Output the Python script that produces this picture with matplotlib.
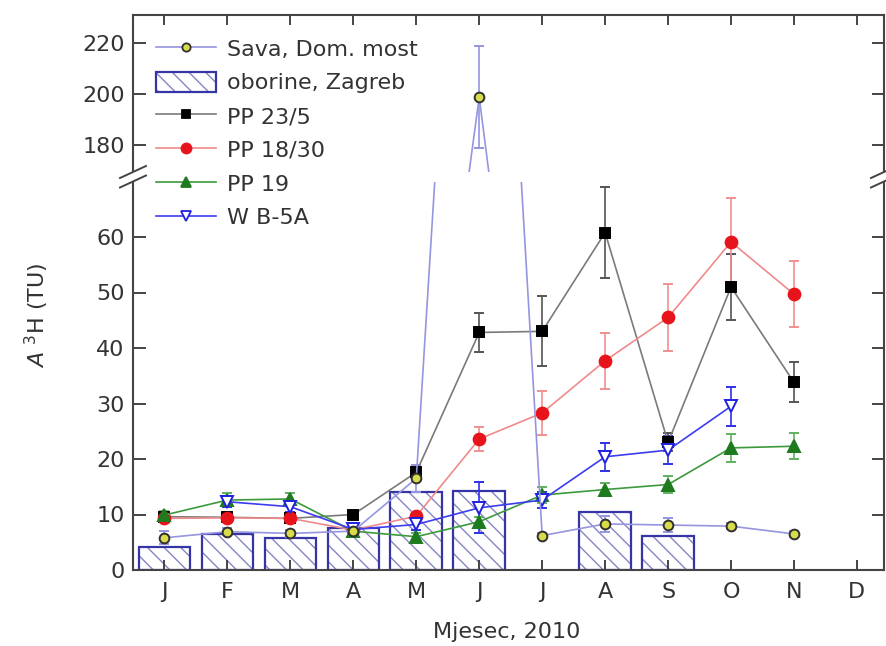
import numpy as np
import matplotlib
matplotlib.use("Agg")
import matplotlib.pyplot as plt
from matplotlib.lines import Line2D
from matplotlib.patches import Patch, Polygon

plt.rcParams['font.family'] = ['DejaVu Sans']
plt.rcParams['mathtext.fontset'] = 'dejavusans'

nan = np.nan

# podaci (ocitano sa slike)
months = ['J', 'F', 'M', 'A', 'M', 'J', 'J', 'A', 'S', 'O', 'N', 'D']
x = np.arange(1, 13)

oborine = [4.2, 6.5, 5.7, 7.6, 14.1, 14.2, nan, 10.5, 6.2, nan, nan, nan]

sava = [5.8, 6.9, 6.6, 7.0, 16.5, 198.8, 6.2, 8.3, 8.1, 7.9, 6.5, nan]
sava_err = [1.2, 0.6, 0.6, 0.5, 2.4, 20.0, 0.5, 1.5, 1.2, 0.5, 0.5, nan]

pp235 = [9.6, 9.5, 9.3, 10.0, 17.6, 42.8, 43.0, 60.8, 23.0, 51.0, 33.8, nan]
pp235_err = [0.5, 0.5, 0.5, 0.6, 1.0, 3.5, 6.3, 8.2, 1.6, 6.0, 3.6, nan]

pp1830 = [9.3, 9.4, 9.3, 7.2, 9.7, 23.6, 28.3, 37.7, 45.5, 59.1, 49.7, nan]
pp1830_err = [0.6, 0.6, 0.6, 0.5, 0.8, 2.2, 4.0, 5.0, 6.0, 8.0, 6.0, nan]

pp19 = [9.9, 12.6, 12.8, 7.0, 6.0, 8.7, 13.5, 14.5, 15.4, 22.0, 22.3, nan]
pp19_err = [0.8, 1.2, 1.0, 0.5, 0.6, 0.8, 1.5, 1.2, 1.5, 2.5, 2.3, nan]

wb5a = [nan, 12.3, 11.4, 7.3, 8.2, 11.2, 12.6, 20.4, 21.6, 29.5, nan, nan]
wb5a_err = [nan, 1.0, 1.0, 0.6, 1.0, 4.6, 1.5, 2.5, 2.5, 3.5, nan, nan]

# stilovi serija
series = [
    # label, values, err, line, marker, ms, mfc, mec, ecolor
    ('PP 23/5', pp235, pp235_err, '#7a7a7a', 's', 7.5, 'black', 'black', '#555555'),
    ('PP 18/30', pp1830, pp1830_err, '#f08a8a', 'o', 8.5, '#e8141c', '#e8141c', '#f09090'),
    ('PP 19', pp19, pp19_err, '#3c9a3c', '^', 8, '#1e7a1e', '#1e7a1e', '#60b060'),
    ('W B-5A', wb5a, wb5a_err, '#3c3cf0', 'v', 8, 'white', '#2020e0', '#3030e8'),
    ('Sava, Dom. most', sava, sava_err, '#9595e0', 'o', 7, '#d7dc4a', '#303030', '#9595e0'),
]

W, H = 886, 646
left = 133 / W
width = (884 - 133) / W
fig = plt.figure(figsize=(W / 100, H / 100), dpi=100)
ax_lo = fig.add_axes([left, (H - 570) / H, width, (570 - 181.5) / H])
ax_hi = fig.add_axes([left, (H - 172) / H, width, (172 - 15) / H])

spine_col = '#444444'
txt_col = '#333333'

for ax in (ax_lo, ax_hi):
    # oborine - stupci
    ax.bar(x, oborine, width=0.82, facecolor='white', edgecolor='#8585c5',
           hatch='\\\\', linewidth=0, zorder=1)
    ax.bar(x, oborine, width=0.82, facecolor='none', edgecolor='#3535a5',
           linewidth=1.6, zorder=2)
    for lab, y, e, lc, mk, ms, mfc, mec, ec in series:
        ax.errorbar(x, y, yerr=e, color=lc, lw=1.2, marker=mk, ms=ms,
                    mfc=mfc, mec=mec, mew=1.4, ecolor=ec, elinewidth=1.2,
                    capsize=3.5, capthick=1.2, zorder=3)
    ax.set_xlim(0.5, 12.43)
    for s in ax.spines.values():
        s.set_color(spine_col)
        s.set_linewidth(1.5)

ax_lo.set_ylim(0, 70)
ax_lo.set_yticks(range(0, 61, 10))
ax_lo.spines['top'].set_visible(False)
ax_lo.set_xticks(x)
ax_lo.set_xticklabels(months)
ax_lo.tick_params(axis='x', direction='in', top=False, bottom=True, length=7,
                  width=1.4, color=spine_col, labelsize=16, labelcolor=txt_col, pad=9)
ax_lo.tick_params(axis='y', direction='in', left=True, right=True, length=9,
                  width=1.4, color=spine_col, labelsize=16, labelcolor=txt_col, pad=6)

ax_hi.set_ylim(169.5, 231)
ax_hi.set_yticks([180, 200, 220])
ax_hi.spines['bottom'].set_visible(False)
ax_hi.set_xticks(x)
ax_hi.tick_params(axis='x', direction='in', top=True, bottom=False, labelbottom=False,
                  length=7, width=1.4, color=spine_col)
ax_hi.tick_params(axis='y', direction='in', left=True, right=True, length=9,
                  width=1.4, color=spine_col, labelsize=16, labelcolor=txt_col, pad=6)

# oznake prekida osi
def break_mark(xpx):
    y1, y2 = 181.5, 172.0
    dx, dy = 13, 6
    pts = [(xpx - dx, y1 + dy), (xpx + dx, y1 - dy), (xpx + dx, y2 - dy), (xpx - dx, y2 + dy)]
    poly = Polygon([(px / W, 1 - py / H) for px, py in pts], closed=True,
                   facecolor='white', edgecolor='none', transform=fig.transFigure, zorder=10)
    fig.add_artist(poly)
    for yc in (y1, y2):
        fig.add_artist(Line2D([(xpx - dx) / W, (xpx + dx) / W],
                              [1 - (yc + dy) / H, 1 - (yc - dy) / H],
                              color=spine_col, lw=1.4, transform=fig.transFigure, zorder=11))

break_mark(133)
break_mark(884)

fig.text(507 / W, 1 - 632 / H, 'Mjesec, 2010', ha='center', va='center',
         fontsize=16, color=txt_col)
fig.text(37 / W, 1 - 315 / H, r'$\mathit{A}$ $^{3}$H (TU)', ha='center', va='center',
         rotation=90, fontsize=16, color=txt_col)

# legenda
handles = []
labels = []
for lab, y, e, lc, mk, ms, mfc, mec, ec in series:
    handles.append(Line2D([], [], color=lc, lw=1.2, marker=mk, ms=ms * 0.85,
                          mfc=mfc, mec=mec, mew=1.3))
    labels.append(lab)
bar_handle = (Patch(facecolor='white', edgecolor='#8585c5', hatch='\\\\', lw=0),
              Patch(facecolor='none', edgecolor='#3535a5', lw=1.6))
order = [4, None, 0, 1, 2, 3]
leg_h = [handles[i] if i is not None else bar_handle for i in order]
leg_l = [labels[i] if i is not None else 'oborine, Zagreb' for i in order]
leg = fig.legend(leg_h, leg_l, loc='upper left', bbox_to_anchor=(156 / W, 1 - 38 / H),
                 frameon=False, fontsize=16, numpoints=1, handlelength=2.7,
                 handleheight=1.0, handletextpad=0.5, labelspacing=0.55,
                 borderpad=0, borderaxespad=0)
for t in leg.get_texts():
    t.set_color(txt_col)
leg.set_zorder(20)

fig.savefig('out.png', dpi=100)
